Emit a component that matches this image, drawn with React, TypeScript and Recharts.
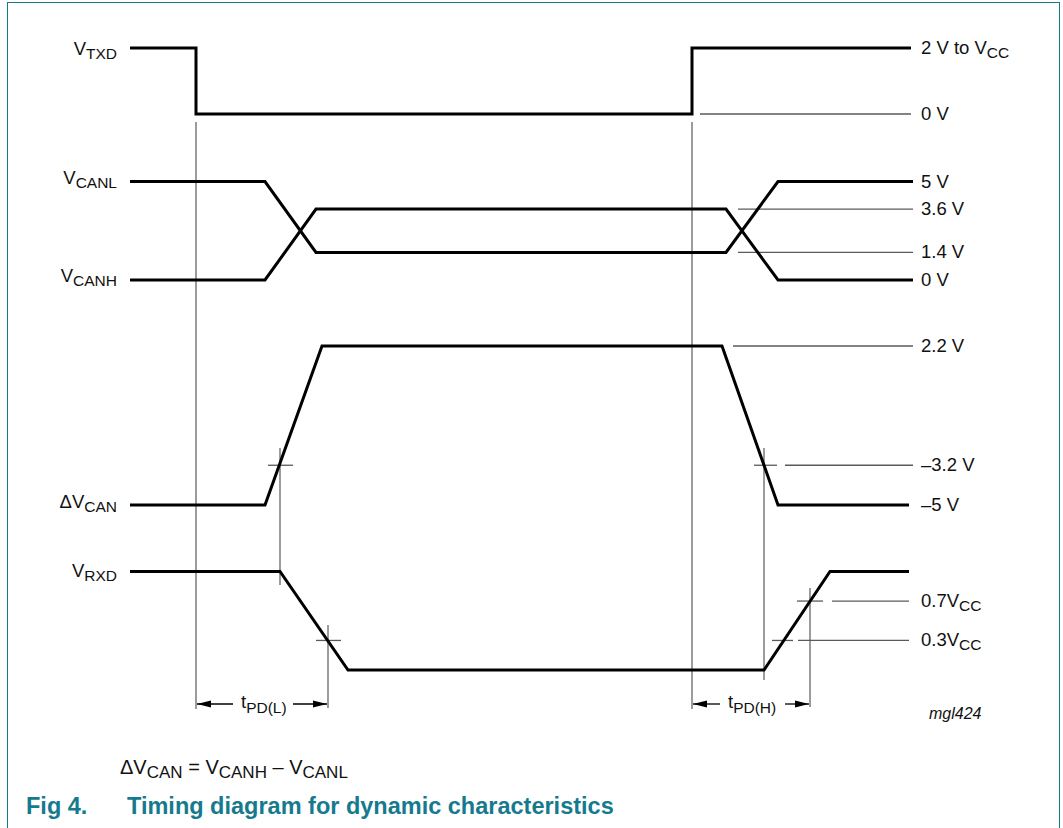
import React from 'react';
import { ComposedChart, Line, XAxis, YAxis } from 'recharts';

// time in arbitrary units, t = 0 at the falling edge of TXD
const txdWave = [
  { t: -66, v: 2 }, { t: 0, v: 2 }, { t: 0, v: 0 }, { t: 496, v: 0 }, { t: 496, v: 2 }, { t: 715, v: 2 },
];
const canlWave = [
  { t: -66, v: 5 }, { t: 69, v: 5 }, { t: 120, v: 1.4 }, { t: 530, v: 1.4 }, { t: 582, v: 5 }, { t: 717, v: 5 },
];
const canhWave = [
  { t: -66, v: 0 }, { t: 69, v: 0 }, { t: 120, v: 3.6 }, { t: 530, v: 3.6 }, { t: 582, v: 0 }, { t: 717, v: 0 },
];
const dvWave = [
  { t: -66, v: -5 }, { t: 69, v: -5 }, { t: 126, v: 2.2 }, { t: 526, v: 2.2 }, { t: 582, v: -5 }, { t: 713, v: -5 },
];
const rxdWave = [
  { t: -66, v: 1 }, { t: 84, v: 1 }, { t: 152, v: 0 }, { t: 568, v: 0 }, { t: 634, v: 1 }, { t: 713, v: 1 },
];

// thin level lines and threshold ticks: level, start time, end time
const txdRefs = [{ v: 0, from: 504, to: 715 }];
const canRefs = [
  { v: 3.6, from: 542, to: 717 },
  { v: 1.4, from: 542, to: 717 },
];
const dvRefs = [
  { v: 2.2, from: 537, to: 717 },
  { v: -3.2, from: 72, to: 97 },
  { v: -3.2, from: 558, to: 581 },
  { v: -3.2, from: 589, to: 717 },
];
const rxdRefs = [
  { v: 0.3, from: 120, to: 145 },
  { v: 0.7, from: 601, to: 627 },
  { v: 0.7, from: 636, to: 713 },
  { v: 0.3, from: 576, to: 597 },
  { v: 0.3, from: 602, to: 713 },
];

// vertical timing markers (time, top, bottom on the page axis)
const markers = [
  { t: 0, from: 122, to: 709 },
  { t: 496, from: 122, to: 709 },
  { t: 84, from: 448, to: 585 },
  { t: 132, from: 625, to: 708 },
  { t: 568, from: 448, to: 680 },
  { t: 614, from: 588, to: 707 },
];

// dimension arrows: tip time, tail time
const arrows = [
  [1, 37], [131, 97], [497, 524], [613, 589],
];

const leftLabels = [
  { axis: 'txd', level: 2, main: 'V', sub: 'TXD', nudge: 7 },
  { axis: 'can', level: 5, main: 'V', sub: 'CANL', nudge: 2 },
  { axis: 'can', level: 0, main: 'V', sub: 'CANH', nudge: 2 },
  { axis: 'dv', level: -5, main: 'ΔV', sub: 'CAN', nudge: 3 },
  { axis: 'rxd', level: 1, main: 'V', sub: 'RXD', nudge: 5 },
];
const rightLabels = [
  { axis: 'txd', level: 2, main: '2 V to V', sub: 'CC' },
  { axis: 'txd', level: 0, main: '0 V', sub: '' },
  { axis: 'can', level: 5, main: '5 V', sub: '' },
  { axis: 'can', level: 3.6, main: '3.6 V', sub: '' },
  { axis: 'can', level: 1.4, main: '1.4 V', sub: '' },
  { axis: 'can', level: 0, main: '0 V', sub: '' },
  { axis: 'dv', level: 2.2, main: '2.2 V', sub: '' },
  { axis: 'dv', level: -3.2, main: '–3.2 V', sub: '' },
  { axis: 'dv', level: -5, main: '–5 V', sub: '' },
  { axis: 'rxd', level: 0.7, main: '0.7V', sub: 'CC' },
  { axis: 'rxd', level: 0.3, main: '0.3V', sub: 'CC' },
];

const W = 1063;
const H = 828;
const T0 = -196;
const ARROW_Y = 704;
const FONT = '"Liberation Sans", Arial, Helvetica, sans-serif';
const TEAL = '#167a8e';
const TRACE = '#000';
const THIN = '#5a5a5a';
const FS = 18.5;
const FS_SUB = 15.5;

// each signal row gets its own vertical scale: [high level, its y, low level, its y]
const anchors: Record<string, number[]> = {
  txd: [2, 48, 0, 114],
  can: [5, 181.5, 0, 280],
  dv: [2.2, 346, -5, 505],
  rxd: [1, 571.5, 0, 670],
};

function domainFor(a: number[]): [number, number] {
  const [vHi, yHi, vLo, yLo] = a;
  const k = (yLo - yHi) / (vHi - vLo);
  const max = vHi + yHi / k;
  return [max - H / k, max];
}

const domains: Record<string, [number, number]> = {};
Object.keys(anchors).forEach((k) => { domains[k] = domainFor(anchors[k]); });

function toY(axis: string, v: number) {
  const [min, max] = domains[axis];
  return (H * (max - v)) / (max - min);
}
function toX(t: number) {
  return t - T0;
}

const ArrowHead = (props: any) => {
  const { cx, cy, index, payload } = props;
  if (index !== 0 || cx == null) return <g key={`h${index}`} />;
  const d = payload.dir;
  return (
    <polygon
      key={`h${index}`}
      points={`${cx},${cy} ${cx - d * 14},${cy - 3.5} ${cx - d * 14},${cy + 3.5}`}
      fill="#000"
    />
  );
};

const App: React.FC = () => {
  const wave = (data: any[], axis: string, key: string) => (
    <Line
      key={key}
      data={data}
      dataKey="v"
      yAxisId={axis}
      type="linear"
      stroke={TRACE}
      strokeWidth={3}
      dot={false}
      activeDot={false}
      isAnimationActive={false}
    />
  );
  const thin = (data: any[], axis: string, key: string, width = 1.3) => (
    <Line
      key={key}
      data={data}
      dataKey="v"
      yAxisId={axis}
      type="linear"
      stroke={THIN}
      strokeWidth={width}
      dot={false}
      activeDot={false}
      isAnimationActive={false}
    />
  );

  const refGroups: [string, typeof txdRefs][] = [
    ['txd', txdRefs], ['can', canRefs], ['dv', dvRefs], ['rxd', rxdRefs],
  ];

  return (
    <div style={{ position: 'absolute', left: 0, top: 0, width: W, height: H, overflow: 'hidden', background: '#fff' }}>
      <div style={{
        position: 'absolute', left: 6.5, top: 1.5, width: 1053, height: 900,
        borderTop: `1.5px solid ${TEAL}`, borderLeft: `1.5px solid ${TEAL}`, borderRight: `1.5px solid ${TEAL}`,
        boxSizing: 'border-box',
      }} />
      <div style={{ position: 'absolute', left: 0, top: 0 }}>
        <ComposedChart width={W} height={H} margin={{ top: 0, right: 0, bottom: 0, left: 0 }}>
          <XAxis type="number" dataKey="t" domain={[T0, T0 + W]} hide allowDataOverflow />
          {Object.keys(domains).map((k) => (
            <YAxis key={k} yAxisId={k} type="number" domain={domains[k]} hide allowDataOverflow />
          ))}
          <YAxis yAxisId="px" type="number" domain={[0, H]} reversed hide allowDataOverflow />

          {markers.map((m, i) => thin([{ t: m.t, v: m.from }, { t: m.t, v: m.to }], 'px', `m${i}`, 1.2))}
          {refGroups.map(([axis, refs]) =>
            refs.map((r, i) => thin([{ t: r.from, v: r.v }, { t: r.to, v: r.v }], axis, `r${axis}${i}`)),
          )}

          {wave(txdWave, 'txd', 'txd')}
          {wave(canlWave, 'can', 'canl')}
          {wave(canhWave, 'can', 'canh')}
          {wave(dvWave, 'dv', 'dv')}
          {wave(rxdWave, 'rxd', 'rxd')}

          {arrows.map(([tip, tail], i) => (
            <Line
              key={`a${i}`}
              data={[{ t: tip, v: ARROW_Y, dir: Math.sign(tip - tail) }, { t: tail, v: ARROW_Y, dir: 0 }]}
              dataKey="v"
              yAxisId="px"
              type="linear"
              stroke="#000"
              strokeWidth={1.3}
              dot={ArrowHead}
              activeDot={false}
              isAnimationActive={false}
            />
          ))}
        </ComposedChart>
      </div>

      <svg width={W} height={H} style={{ position: 'absolute', left: 0, top: 0, pointerEvents: 'none' }} fontFamily={FONT}>
        {leftLabels.map((l, i) => (
          <text key={`l${i}`} x={117} y={toY(l.axis, l.level) + l.nudge} textAnchor="end" fontSize={FS} fill="#111">
            {l.main}
            <tspan fontSize={FS_SUB} dy={4}>{l.sub}</tspan>
          </text>
        ))}
        {rightLabels.map((l, i) => (
          <text key={`rl${i}`} x={921} y={toY(l.axis, l.level) + 6} fontSize={FS} fill="#111">
            {l.main}
            {l.sub ? <tspan fontSize={FS_SUB} dy={4}>{l.sub}</tspan> : null}
          </text>
        ))}

        <text x={toX(45)} y={708} fontSize={FS} fill="#111">
          t<tspan fontSize={FS_SUB} dy={5}>PD(L)</tspan>
        </text>
        <text x={toX(532)} y={708} fontSize={FS} fill="#111">
          t<tspan fontSize={FS_SUB} dy={5}>PD(H)</tspan>
        </text>

        <text x={929} y={719} fontSize={16} fontStyle="italic" fill="#111">mgl424</text>

        <text x={120} y={774} fontSize={20} fill="#111">
          ΔV<tspan fontSize={17} dy={4}>CAN</tspan>
          <tspan dy={-4}> = V</tspan>
          <tspan fontSize={17} dy={4}>CANH</tspan>
          <tspan dy={-4}> – V</tspan>
          <tspan fontSize={17} dy={4}>CANL</tspan>
        </text>

        <text x={26} y={814} fontSize={23.5} fontWeight="bold" fill={TEAL}>Fig 4.</text>
        <text x={127} y={814} fontSize={23.5} fontWeight="bold" fill={TEAL}>
          Timing diagram for dynamic characteristics
        </text>
      </svg>
    </div>
  );
};

export default App;
